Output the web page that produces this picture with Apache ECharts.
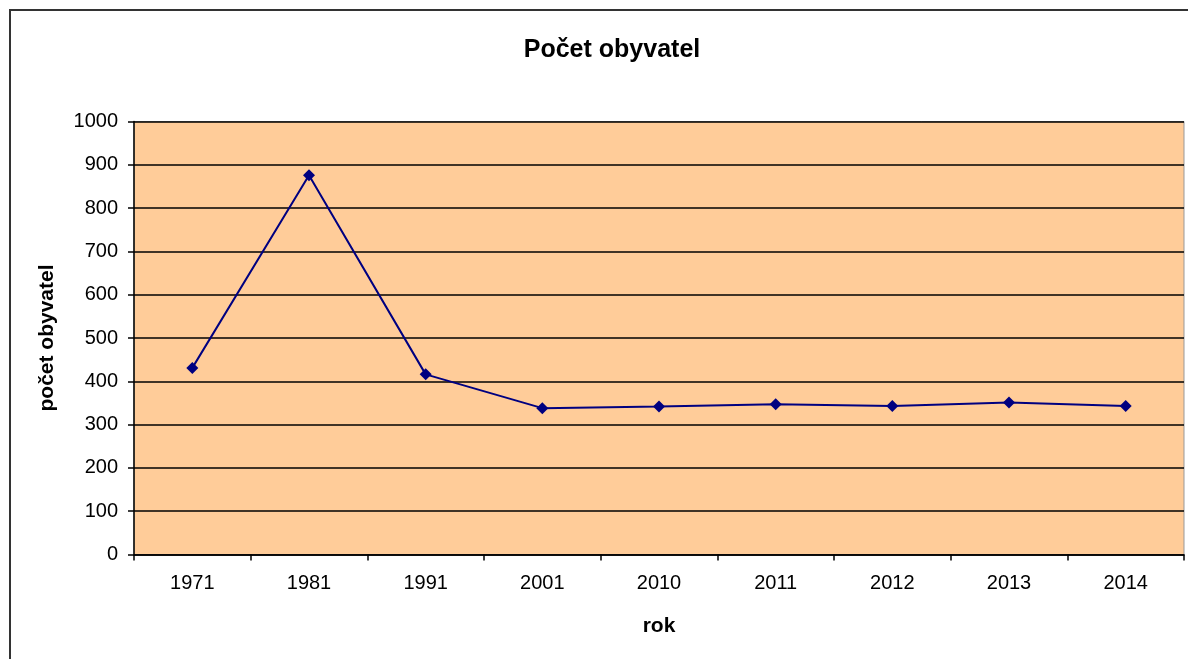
<!DOCTYPE html>
<html>
<head>
<meta charset="utf-8">
<title>Počet obyvatel</title>
<script src="https://cdn.jsdelivr.net/npm/echarts@6/dist/echarts.min.js"></script>
<style>
  html, body { margin: 0; padding: 0; background: #fff; }
  #main { width: 1188px; height: 659px; }
</style>
</head>
<body>
<div id="main"></div>
<script>
// data
var roky = ['1971', '1981', '1991', '2001', '2010', '2011', '2012', '2013', '2014'];
var obyvatele = [431, 876, 416, 338, 342, 347, 343, 351, 343];
var yTicks = [0, 100, 200, 300, 400, 500, 600, 700, 800, 900, 1000];

var font = '"Liberation Sans", Arial, sans-serif';
var myChart = echarts.init(document.getElementById('main'));

var option = {
    backgroundColor: '#fff',
    animation: false,
    // ramecek kolem grafu
    graphic: [{
        type: 'rect',
        shape: { x: 10, y: 10, width: 1200, height: 700 },
        style: { fill: 'none', stroke: '#333', lineWidth: 2 },
        silent: true
    }],
    title: {
        text: 'Počet obyvatel',
        left: 607,
        top: 33,
        textAlign: 'center',
        textStyle: { fontFamily: font, fontSize: 25, fontWeight: 'bold', color: '#000' }
    },
    grid: {
        left: 134,
        top: 121.5,
        width: 1050,
        height: 433,
        show: true,
        backgroundColor: '#ffcc99',
        borderColor: '#999',
        borderWidth: 1,
        containLabel: false
    },
    xAxis: {
        type: 'category',
        data: roky,
        boundaryGap: true,
        name: 'rok',
        nameLocation: 'middle',
        nameGap: 61,
        nameTextStyle: { fontFamily: font, fontSize: 21, fontWeight: 'bold', color: '#000' },
        axisLine: { lineStyle: { color: '#000', width: 1.5 } },
        axisTick: { show: true, length: 6, lineStyle: { color: '#000', width: 1.5 } },
        axisLabel: { fontFamily: font, fontSize: 20, color: '#000', margin: 19 },
        splitLine: { show: false }
    },
    yAxis: {
        type: 'value',
        min: yTicks[0],
        max: yTicks[yTicks.length - 1],
        interval: 100,
        name: 'počet obyvatel',
        nameLocation: 'middle',
        nameGap: 76,
        nameTextStyle: { fontFamily: font, fontSize: 21, fontWeight: 'bold', color: '#000' },
        axisLine: { show: true, lineStyle: { color: '#000', width: 1.5 } },
        axisTick: { show: true, length: 6, lineStyle: { color: '#000', width: 1.5 } },
        axisLabel: {
            fontFamily: font, fontSize: 20, color: '#000', margin: 16,
            formatter: function (v) { return String(v); }
        },
        splitLine: { show: true, lineStyle: { color: '#000', width: 1.5 } }
    },
    series: [{
        name: 'Počet obyvatel',
        type: 'line',
        data: obyvatele,
        symbol: 'diamond',
        symbolSize: 12,
        lineStyle: { color: '#000080', width: 2 },
        itemStyle: { color: '#000080' }
    }]
};
myChart.setOption(option);
</script>
</body>
</html>
